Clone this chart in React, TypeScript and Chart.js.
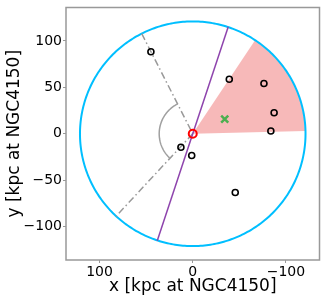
import React, { useEffect, useRef } from "react";
import { Chart, registerables } from "chart.js";

Chart.register(...registerables);

// ---- data ----
const xTicks = [100, 0, -100];
const yTicks = [-100, -50, 0, 50, 100];
const axisMin = -136;
const axisMax = 136;

const circleRadius = 121;
const purpleAngleDeg = 108.3;
const purpleRadius = 121.3;
const grayLineAngles = [63.1, -47.2];
const grayLineRadius = 121;
const arcRadius = 36;
const wedgeAngles = [123.6, 178.6];
const wedgeRadius = 120.5;

const satX = [44.9, -39.2, -76.4, -87.3, -83.8, 12.7, 1.1, -45.6];
const satY = [88.3, 58.7, 54.1, 22.7, 2.9, -14.6, -23.5, -63.3];
const centroid = { x: -34.3, y: 15.7 };
const hostCenter = { x: 0, y: 0 };

const xLabel = "x [kpc at NGC4150]";
const yLabel = "y [kpc at NGC4150]";

const FONT = "DejaVu Sans";

const rad = (d: number) => (d * Math.PI) / 180;
const polar = (r: number, deg: number) => ({ x: r * Math.cos(rad(deg)), y: r * Math.sin(rad(deg)) });
const arcPoints = (r: number, a0: number, a1: number, n: number) => {
  const pts = [];
  for (let i = 0; i <= n; i++) pts.push(polar(r, a0 + ((a1 - a0) * i) / n));
  return pts;
};

const fmt = (v: number) => (v < 0 ? "\u2212" + Math.abs(v) : String(v));

function tracePath(chart: any, pts: { x: number; y: number }[], close: boolean) {
  const { ctx, scales } = chart;
  ctx.beginPath();
  pts.forEach((p, i) => {
    const px = scales.x.getPixelForValue(p.x);
    const py = scales.y.getPixelForValue(p.y);
    if (i === 0) ctx.moveTo(px, py);
    else ctx.lineTo(px, py);
  });
  if (close) ctx.closePath();
}

const shapesPlugin = {
  id: "shapes",
  beforeDatasetsDraw(chart: any) {
    const { ctx } = chart;
    ctx.save();
    // wedge
    tracePath(chart, [{ x: 0, y: 0 }, ...arcPoints(wedgeRadius, wedgeAngles[0], wedgeAngles[1], 60)], true);
    ctx.fillStyle = "rgba(240,128,128,0.55)";
    ctx.fill();
    // circle
    tracePath(chart, arcPoints(circleRadius, 0, 360, 360), true);
    ctx.strokeStyle = "#00bfff";
    ctx.lineWidth = 2;
    ctx.stroke();
    // gray dash-dot lines
    ctx.setLineDash([7, 3, 1.5, 3]);
    tracePath(chart, [polar(grayLineRadius, grayLineAngles[0]), { x: 0, y: 0 }], false);
    ctx.strokeStyle = "#999999";
    ctx.lineWidth = 1.5;
    ctx.stroke();
    tracePath(chart, [{ x: 0, y: 0 }, polar(grayLineRadius, grayLineAngles[1])], false);
    ctx.stroke();
    ctx.setLineDash([]);
    // angle arc
    tracePath(chart, arcPoints(arcRadius, grayLineAngles[1], grayLineAngles[0], 80), false);
    ctx.strokeStyle = "#a0a0a0";
    ctx.lineWidth = 1.5;
    ctx.stroke();
    // purple line
    const e = polar(purpleRadius, purpleAngleDeg);
    tracePath(chart, [e, { x: -e.x, y: -e.y }], false);
    ctx.strokeStyle = "#8e44ad";
    ctx.lineWidth = 1.5;
    ctx.stroke();
    ctx.restore();
  },
  afterDatasetsDraw(chart: any) {
    const { ctx, chartArea } = chart;
    ctx.save();
    ctx.strokeStyle = "#999999";
    ctx.lineWidth = 1.5;
    ctx.strokeRect(chartArea.left, chartArea.top, chartArea.right - chartArea.left, chartArea.bottom - chartArea.top);
    ctx.restore();
  },
};

export default function App() {
  const ref = useRef<HTMLCanvasElement | null>(null);
  useEffect(() => {
    if (!ref.current) return;
    Chart.defaults.font.family = FONT;
    const datasets: any[] = [
      {
        data: satX.map((x, i) => ({ x, y: satY[i] })),
        showLine: false,
        pointStyle: "circle",
        pointRadius: 3,
        borderWidth: 1.6,
        borderColor: "#000000",
        backgroundColor: "rgba(255,255,255,0)",
      },
      {
        data: [centroid],
        pointStyle: "crossRot",
        pointRadius: 5,
        borderWidth: 2.5,
        borderColor: "#4caf50",
      },
      {
        data: [hostCenter],
        pointStyle: "circle",
        pointRadius: 4,
        borderWidth: 2,
        borderColor: "#ff0000",
        backgroundColor: "rgba(255,255,255,0)",
      },
    ];
    const chart = new Chart(ref.current, {
      type: "scatter",
      data: { datasets },
      plugins: [shapesPlugin],
      options: {
        animation: false,
        responsive: false,
        maintainAspectRatio: false,
        layout: { padding: { top: 3, right: 5, left: 0, bottom: 0 } },
        plugins: { legend: { display: false }, tooltip: { enabled: false } },
        scales: {
          x: {
            type: "linear",
            reverse: true,
            min: axisMin,
            max: axisMax,
            afterBuildTicks: (s: any) => {
              s.ticks = xTicks.map((v) => ({ value: v }));
            },
            afterFit: (s: any) => {
              s.height = 42;
              s.paddingLeft = 0;
              s.paddingRight = 0;
            },
            border: { display: false },
            grid: { drawOnChartArea: false, drawTicks: true, tickLength: 3, color: "#999999" },
            ticks: {
              font: { size: 14, family: FONT },
              color: "#000000",
              padding: 1,
              maxRotation: 0,
              callback: (v: any) => fmt(Number(v)),
            },
            title: {
              display: true,
              text: xLabel,
              font: { size: 17, family: FONT },
              color: "#000000",
              padding: { top: 0, bottom: 5 },
            },
          },
          y: {
            type: "linear",
            min: axisMin,
            max: axisMax,
            afterBuildTicks: (s: any) => {
              s.ticks = yTicks.map((v) => ({ value: v }));
            },
            afterFit: (s: any) => {
              s.width = 66;
              s.paddingTop = 0;
              s.paddingBottom = 0;
            },
            border: { display: false },
            grid: { drawOnChartArea: false, drawTicks: true, tickLength: 3, color: "#999999" },
            ticks: {
              font: { size: 14, family: FONT },
              color: "#000000",
              padding: 1,
              callback: (v: any) => fmt(Number(v)),
            },
            title: {
              display: true,
              text: yLabel,
              font: { size: 17, family: FONT },
              color: "#000000",
              padding: { top: 4, bottom: 0 },
            },
          },
        },
      },
    });
    return () => chart.destroy();
  }, []);
  return (
    <div style={{ position: "absolute", left: 0, top: 0, width: 327, height: 302, background: "#fff" }}>
      <canvas ref={ref} width={327} height={302} style={{ width: 327, height: 302 }} />
    </div>
  );
}
